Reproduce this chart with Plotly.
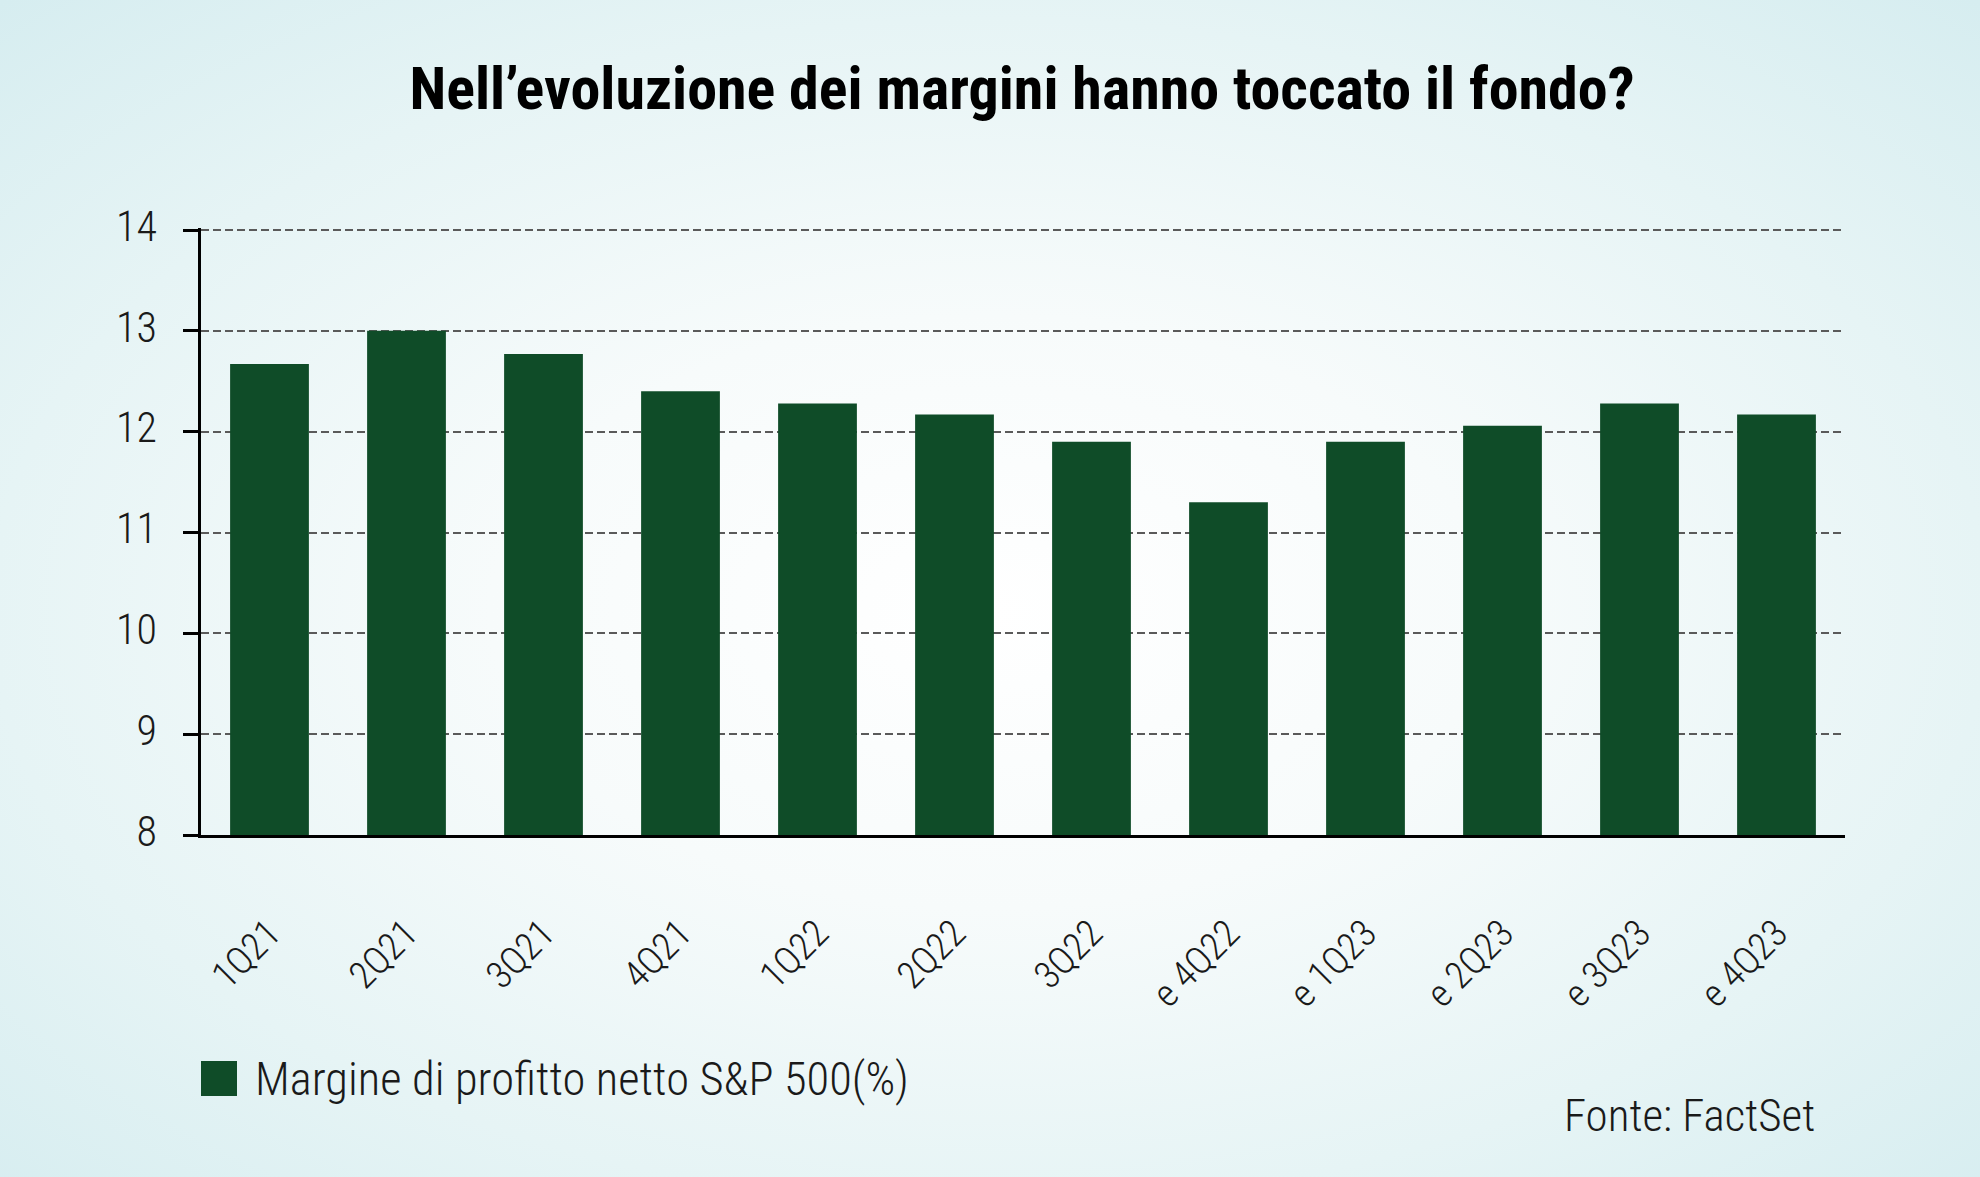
import base64
import plotly.graph_objects as go

# ---- data ----
categories = ["1Q21", "2Q21", "3Q21", "4Q21", "1Q22", "2Q22", "3Q22",
              "e 4Q22", "e 1Q23", "e 2Q23", "e 3Q23", "e 4Q23"]
margins = [12.67, 13.0, 12.77, 12.4, 12.28, 12.17, 11.9,
           11.3, 11.9, 12.06, 12.28, 12.17]
y_ticks = [8, 9, 10, 11, 12, 13, 14]

title_text = "Nell\u2019evoluzione dei margini hanno toccato il fondo?"
legend_text = "Margine di profitto netto S&P 500(%)"
source_text = "Fonte: FactSet"

# ---- styling ----
W, H = 1980, 1177
L, R, T, B = 201, 135, 228, 342
PW, PH = W - L - R, H - T - B
BAR = "#0f4c28"
FONT = "Liberation Sans Narrow, Roboto Condensed, DejaVu Sans Condensed, Roboto, sans-serif"
TXT = "#1a1a1a"

def px_x(p):
    return (p - L) / PW

def px_y(p):
    return (H - B - p) / PH

svg = f'''<svg xmlns="http://www.w3.org/2000/svg" width="{W}" height="{H}" viewBox="0 0 {W} {H}" preserveAspectRatio="none">
<defs><radialGradient id="g" cx="50%" cy="52%" r="72%">
<stop offset="0%" stop-color="#ffffff"/>
<stop offset="35%" stop-color="#f7fbfb"/>
<stop offset="70%" stop-color="#e6f4f5"/>
<stop offset="100%" stop-color="#d6edf0"/>
</radialGradient></defs>
<rect x="0" y="0" width="{W}" height="{H}" fill="url(#g)"/></svg>'''
bg_src = "data:image/svg+xml;base64," + base64.b64encode(svg.encode()).decode()

fig = go.Figure()
fig.add_trace(go.Bar(
    x=categories, y=margins, width=0.575,
    marker=dict(color=BAR, line=dict(width=0)),
    name=legend_text, showlegend=False,
))

fig.update_layout(
    width=W, height=H,
    margin=dict(l=L, r=R, t=T, b=B, autoexpand=False),
    paper_bgcolor="#e8f5f6",
    plot_bgcolor="rgba(0,0,0,0)",
    font=dict(family=FONT, color=TXT),
    title=dict(text=title_text, x=px_x(1022), xref="paper", xanchor="center",
               y=1 - 88 / H, yref="container", yanchor="middle",
               font=dict(family=FONT, size=60, color="#000000", weight="bold")),
    bargap=0.4,
)

fig.update_xaxes(
    type="category", range=[-0.5, 11.5],
    showline=True, linecolor="#000000", linewidth=2.5,
    ticks="", showgrid=False, tickangle=-45,
    tickfont=dict(family=FONT, size=38, color=TXT, weight=300),
    ticklabelstandoff=58,
)
fig.update_yaxes(
    range=[8, 14.02], tickvals=y_ticks,
    showline=True, linecolor="#000000", linewidth=2.5,
    ticks="outside", ticklen=15, tickwidth=2.5, tickcolor="#000000",
    showgrid=True, gridcolor="#5a5a5a", gridwidth=2.3, griddash="8px,4px",
    zeroline=False,
    tickfont=dict(family=FONT, size=42, color=TXT, weight=300),
    ticklabelstandoff=18, ticklabelshift=-4,
)

fig.add_layout_image(dict(
    source=bg_src, xref="paper", yref="paper",
    x=-L / PW, y=(H - B) / PH, xanchor="left", yanchor="top",
    sizex=W / PW, sizey=H / PH, sizing="stretch", layer="below",
))

# legend (manual)
fig.add_shape(type="rect", xref="paper", yref="paper",
              x0=px_x(201), x1=px_x(237), y0=px_y(1096), y1=px_y(1061),
              fillcolor=BAR, line=dict(width=0))
fig.add_annotation(text=legend_text, xref="paper", yref="paper",
                   x=px_x(253), y=px_y(1079), xanchor="left", yanchor="middle",
                   showarrow=False, font=dict(family=FONT, size=46.5, color=TXT, weight=300))
fig.add_annotation(text=source_text, xref="paper", yref="paper",
                   x=px_x(1817), y=px_y(1115), xanchor="right", yanchor="middle",
                   showarrow=False, font=dict(family=FONT, size=45, color=TXT, weight=300))

fig.write_html("out.html", config={"displayModeBar": False},
               post_script="document.body.style.margin='0';")
